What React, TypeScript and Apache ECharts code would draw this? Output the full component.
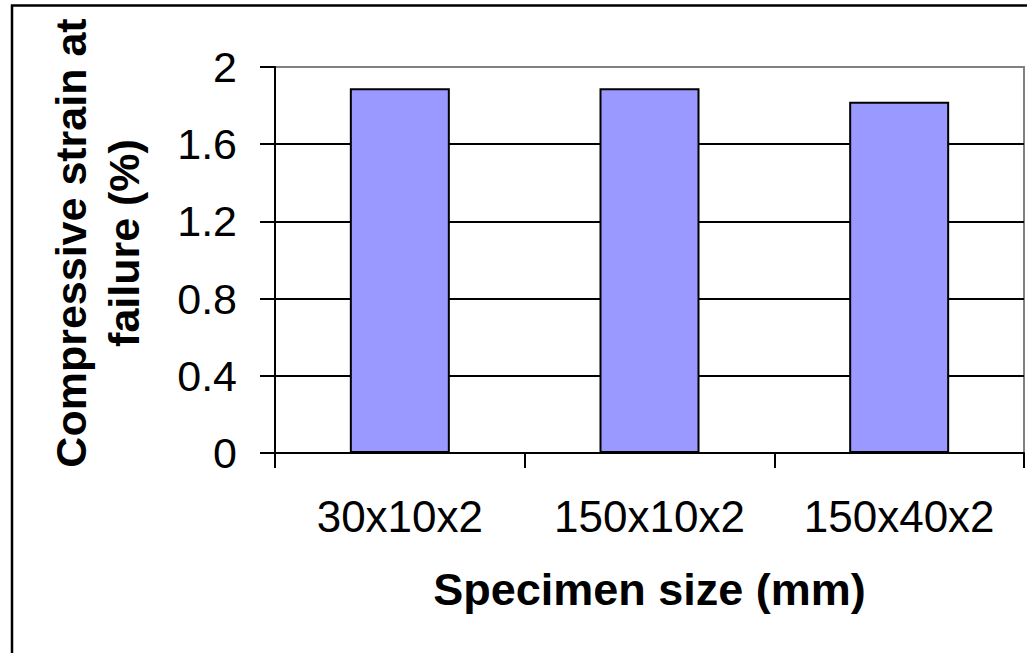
import React, { useEffect, useRef } from "react";
import * as echarts from "echarts";

const categories = ["30x10x2", "150x10x2", "150x40x2"];
const strainValues = [1.89, 1.89, 1.82];
const yTicks = [0, 0.4, 0.8, 1.2, 1.6, 2];

const FONT = "'Liberation Sans', Arial, sans-serif";

export default function App() {
  const ref = useRef<HTMLDivElement>(null);

  useEffect(() => {
    if (!ref.current) return;
    const chart = echarts.init(ref.current, undefined, { renderer: "svg" });
    chart.setOption({
      animation: false,
      backgroundColor: "#ffffff",
      grid: {
        left: 275,
        right: 3,
        top: 67,
        bottom: 200,
        show: true,
        borderColor: "#808080",
        borderWidth: 2,
        backgroundColor: "transparent",
      },
      xAxis: {
        type: "category",
        data: categories,
        boundaryGap: true,
        axisLine: { show: true, lineStyle: { color: "#000", width: 2 } },
        axisTick: { show: true, length: 15, lineStyle: { color: "#000", width: 2 } },
        axisLabel: {
          color: "#000",
          fontFamily: FONT,
          fontSize: 44,
          margin: 41,
        },
        name: "Specimen size (mm)",
        nameLocation: "middle",
        nameGap: 114,
        nameTextStyle: {
          color: "#000",
          fontFamily: FONT,
          fontSize: 45,
          fontWeight: "bold",
        },
      },
      yAxis: {
        type: "value",
        min: yTicks[0],
        max: yTicks[yTicks.length - 1],
        interval: 0.4,
        axisLine: { show: true, lineStyle: { color: "#000", width: 2 } },
        axisTick: { show: true, length: 15, lineStyle: { color: "#000", width: 2 } },
        axisLabel: {
          color: "#000",
          fontFamily: FONT,
          fontSize: 43,
          margin: 38,
          formatter: (v: number) => String(Number(v.toFixed(1))),
        },
        splitLine: {
          show: true,
          lineStyle: {
            color: ["#000", "#000", "#000", "#000", "#000", "#808080"],
            width: 2,
          },
        },
      },
      graphic: [
        {
          type: "rect",
          shape: { x: 12, y: 5.5, width: 1040, height: 680 },
          style: { fill: "none", stroke: "#000", lineWidth: 2.5 },
          silent: true,
        },
        {
          type: "text",
          x: 97,
          y: 243,
          rotation: Math.PI / 2,
          style: {
            text: "Compressive strain at\nfailure (%)",
            fill: "#000",
            font: `bold 43px ${FONT}`,
            lineHeight: 53,
            align: "center",
            verticalAlign: "middle",
          },
        },
      ],
      series: [
        {
          type: "bar",
          data: strainValues,
          barWidth: 100,
          itemStyle: { color: "#9999FF", borderColor: "#000", borderWidth: 2 },
        },
      ],
    });
    return () => chart.dispose();
  }, []);

  return (
    <div
      ref={ref}
      style={{ position: "absolute", left: 0, top: 0, width: 1027, height: 653 }}
    />
  );
}
